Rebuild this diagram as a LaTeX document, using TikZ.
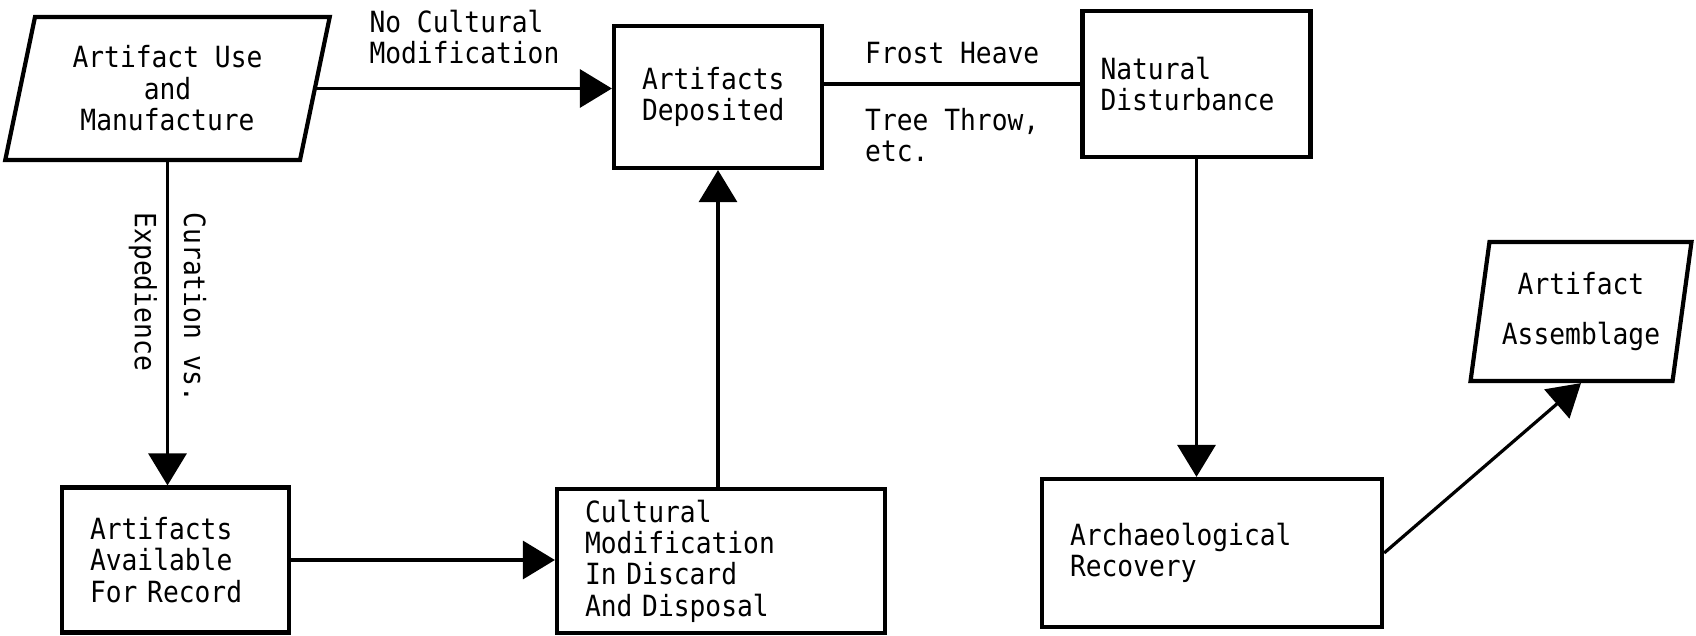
\documentclass[tikz,border=0pt]{standalone}
\usepackage{fontspec}
\setmonofont[FakeStretch=0.9]{DejaVu Sans Mono}
\usetikzlibrary{arrows.meta,shapes.geometric}

\begin{document}
\begin{tikzpicture}[
    x=0.5pt, y=-0.5pt,
    every node/.style={font=\ttfamily\fontsize{14.6pt}{15.7pt}\selectfont},
    block/.style={rectangle, draw, line width=2.1pt, align=left, inner xsep=14pt},
    io/.style={trapezium, draw, line width=2.1pt, align=center, trapezium stretches=true},
    arrow/.style={-{Triangle[length=16pt,width=19pt]}, line width=1.6pt},
    link/.style={line width=1.6pt}
]
\useasboundingbox (0,0) rectangle (1696,636);

% Start and end of the flow
\node[io, minimum width=162.5pt, minimum height=71.5pt, trapezium left angle=77, trapezium right angle=103] (use) at (167.5,88.5) {Artifact Use\\and\\Manufacture};
\node[io, minimum width=110.5pt, minimum height=69.5pt, trapezium left angle=79, trapezium right angle=101] (asm) at (1581,311.5) {Artifact\\[9pt]Assemblage};

% Process blocks
\node[block, text width=76pt, minimum height=71pt] (dep) at (718,97) {Artifacts\\Deposited};
\node[block, text width=96pt, inner xsep=9pt, minimum height=73pt] (nat) at (1196.5,84) {Natural\\Disturbance};
\node[block, text width=85.5pt, minimum height=72.5pt] (avail) at (175.5,560) {Artifacts\\Available\\For Record};
\node[block, text width=136pt, minimum height=72pt] (cult) at (721,561) {Cultural\\Modification\\In Discard\\And Disposal};
\node[block, text width=142pt, minimum height=74pt] (arch) at (1212,553) {Archaeological\\Recovery};

% Arrows
\draw[arrow] (use.east) -- (use.east -| dep.west) node[midway, above=8pt, align=left] {No Cultural\\Modification};
\draw[link] (dep.east |- nat.west) -- (nat.west)
    node[midway, above=6pt] {Frost Heave}
    node[midway, below=8pt, align=left] {Tree Throw,\\etc.};
\draw[arrow] (use.south) -- (use.south |- avail.north) node[pos=0.45, rotate=-90, align=left] {Curation vs.\\[9pt]Expedience};
\draw[arrow] (avail.east) -- (avail.east -| cult.west);
\draw[arrow] (cult.north -| dep.south) -- (dep.south);
\draw[arrow] (nat.south) -- (nat.south |- arch.north);
\draw[arrow] (arch.east) -- (asm.south);

\end{tikzpicture}
\end{document}
